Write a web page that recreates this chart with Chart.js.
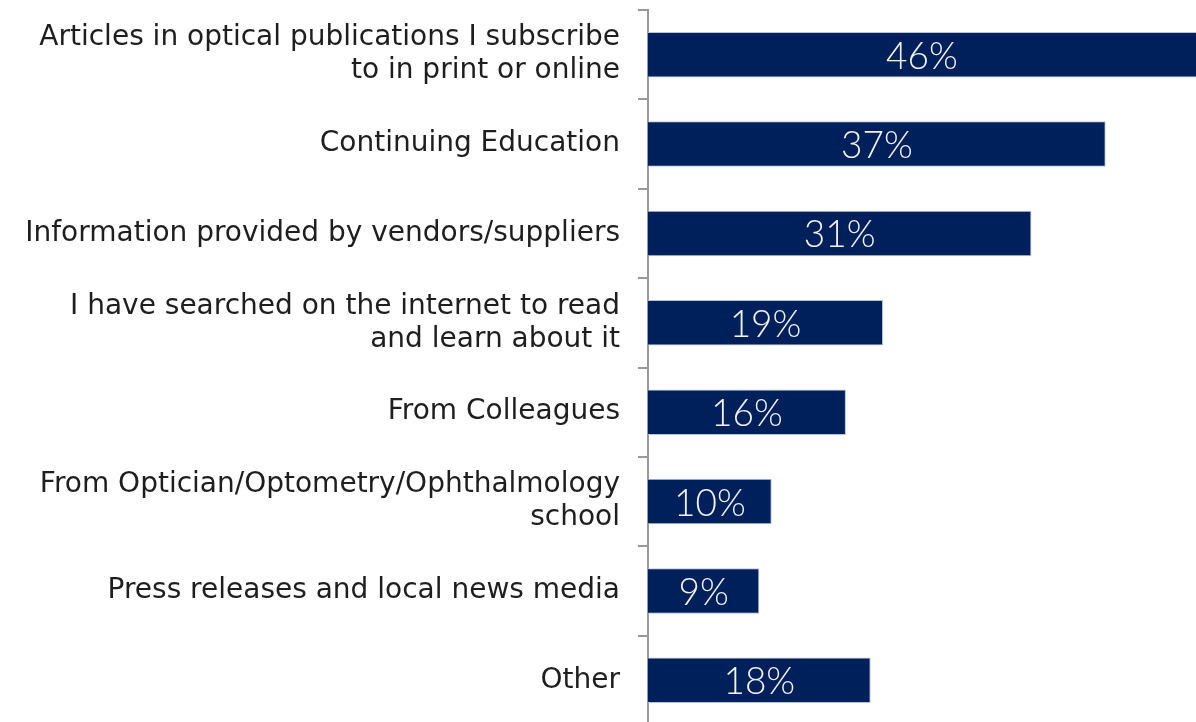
<!DOCTYPE html>
<html>
<head>
<meta charset="utf-8">
<script src="https://cdn.jsdelivr.net/npm/chart.js@4/dist/chart.umd.min.js"></script>
<style>
    html, body { margin: 0; padding: 0; background: #ffffff; overflow: hidden; }
    #wrap { width: 1196px; height: 725px; }
</style>
</head>
<body>
<div id="wrap"><canvas id="sources"></canvas></div>
<script>
// Where respondents learned about it (% of respondents)
const categories = [
    ["Articles in optical publications I subscribe", "to in print or online"],
    "Continuing Education",
    "Information provided by vendors/suppliers",
    ["I have searched on the internet to read", "and learn about it"],
    "From Colleagues",
    ["From Optician/Optometry/Ophthalmology", "school"],
    "Press releases and local news media",
    "Other"
];
const percentages = [46, 37, 31, 19, 16, 10, 9, 18];

const BAR_COLOR = "#00205b";
const AXIS_COLOR = "#999999";
const LABEL_FONT = "'DejaVu Sans', sans-serif";
const VALUE_FONT = "'Lato', 'Open Sans', sans-serif";

// writes the value in the middle of the visible part of each bar
const barValueLabels = {
    id: "barValueLabels",
    afterDatasetsDraw(chart) {
        const ctx = chart.ctx;
        const area = chart.chartArea;
        const meta = chart.getDatasetMeta(0);
        ctx.save();
        ctx.fillStyle = "#f2f2f2";
        ctx.font = "300 37px " + VALUE_FONT;
        ctx.textAlign = "center";
        ctx.textBaseline = "middle";
        meta.data.forEach(function(bar, i) {
            const left = Math.max(bar.base, area.left);
            const right = Math.min(bar.x, area.right);
            ctx.fillText(percentages[i] + "%", (left + right) / 2, bar.y + 2);
        });
        ctx.restore();
    }
};

new Chart(document.getElementById("sources"), {
    type: "bar",
    data: {
        labels: categories,
        datasets: [{
            data: percentages,
            backgroundColor: BAR_COLOR,
            borderColor: "#b8c2d8",
            borderWidth: 1,
            borderSkipped: "left",
            barPercentage: 0.51,
            categoryPercentage: 1.0
        }]
    },
    options: {
        indexAxis: "y",
        responsive: true,
        maintainAspectRatio: false,
        animation: false,
        layout: { padding: { top: 10, right: 0, bottom: 0, left: 0 } },
        plugins: {
            legend: { display: false },
            tooltip: { enabled: false }
        },
        scales: {
            x: {
                display: false,
                min: 0,
                max: 44.3
            },
            y: {
                // fixed axis width, and no extra room above/below for the labels
                afterFit: function(scale) {
                    scale.width = 648;
                    scale.paddingTop = 0;
                    scale.paddingBottom = 0;
                },
                border: { display: true, color: AXIS_COLOR, width: 2 },
                grid: {
                    offset: true,
                    drawOnChartArea: false,
                    drawTicks: true,
                    tickLength: 10,
                    color: AXIS_COLOR,
                    lineWidth: 2
                },
                ticks: {
                    padding: 18,
                    color: "#1e1e1e",
                    font: { family: LABEL_FONT, size: 28, lineHeight: 1.18 }
                }
            }
        }
    },
    plugins: [barValueLabels]
});
</script>
</body>
</html>
